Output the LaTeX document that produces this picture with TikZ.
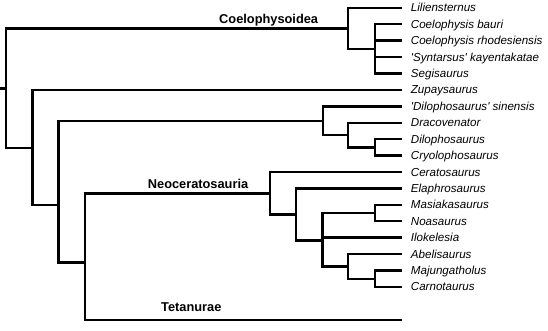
\documentclass[tikz,border=0pt]{standalone}
\usepackage{fontspec}
\setmainfont{Liberation Sans}
\begin{document}
\begin{tikzpicture}[x=1pt,y=-1pt,
  branch/.style={line width=2.4pt, line join=miter},
  taxon/.style={anchor=base west, inner sep=0pt, font=\fontsize{11.6}{13}\selectfont\itshape},
  clade/.style={anchor=base west, inner sep=0pt, font=\fontsize{12.8}{15}\selectfont\bfseries}]
\useasboundingbox (0,0) rectangle (548,331);
% leaves
\foreach \i/\name in {0/Liliensternus, 1/Coelophysis bauri, 2/Coelophysis rhodesiensis,
  3/\textquotesingle Syntarsus\textquotesingle{} kayentakatae, 4/Segisaurus, 5/Zupaysaurus,
  6/\textquotesingle Dilophosaurus\textquotesingle{} sinensis, 7/Dracovenator, 8/Dilophosaurus,
  9/Cryolophosaurus, 10/Ceratosaurus, 11/Elaphrosaurus, 12/Masiakasaurus, 13/Noasaurus,
  14/Ilokelesia, 15/Abelisaurus, 16/Majungatholus, 17/Carnotaurus}{
  \coordinate (t\i) at (401.7,7.8+16.42*\i);
  \node[taxon] (l\i) at (410.7,11.8+16.42*\i) {\name};
}
\coordinate (t19) at (401.7,319.8);
% internal nodes
\coordinate (cC) at (374.7,48.9);
\coordinate (cCoel) at (348,28.6);
\coordinate (cDC) at (374.7,147.4);
\coordinate (cDr) at (348,135);
\coordinate (cDil) at (323,121);
\coordinate (cNoa) at (374.7,213);
\coordinate (cMC) at (374.7,278.7);
\coordinate (cAbe) at (348,266.4);
\coordinate (cAbs) at (322.3,240.5);
\coordinate (cEla) at (295.7,214.5);
\coordinate (cNeo) at (270,193.5);
\coordinate (cNT) at (85,262.3);
\coordinate (cDNT) at (58.5,205);
\coordinate (cZ) at (32.3,147.9);
\coordinate (root) at (5.7,88.5);
\coordinate (base) at (0,88.5);
% branches
\draw[branch] (base) -- (root);
\draw[branch] (root) |- (cCoel);
\draw[branch] (root) |- (cZ);
\draw[branch] (cCoel) |- (t0);
\draw[branch] (cCoel) |- (cC);
\foreach \k in {1,2,3,4} \draw[branch] (cC) |- (t\k);
\draw[branch] (cZ) |- (t5);
\draw[branch] (cZ) |- (cDNT);
\draw[branch] (cDNT) |- (cDil);
\draw[branch] (cDNT) |- (cNT);
\draw[branch] (cDil) |- (t6);
\draw[branch] (cDil) |- (cDr);
\draw[branch] (cDr) |- (t7);
\draw[branch] (cDr) |- (cDC);
\draw[branch] (cDC) |- (t8);
\draw[branch] (cDC) |- (t9);
\draw[branch] (cNT) |- (cNeo);
\draw[branch] (cNT) |- (t19);
\draw[branch] (cNeo) |- (t10);
\draw[branch] (cNeo) |- (cEla);
\draw[branch] (cEla) |- (t11);
\draw[branch] (cEla) |- (cAbs);
\draw[branch] (cAbs) |- (cNoa);
\draw[branch] (cAbs) |- (t14);
\draw[branch] (cAbs) |- (cAbe);
\draw[branch] (cNoa) |- (t12);
\draw[branch] (cNoa) |- (t13);
\draw[branch] (cAbe) |- (t15);
\draw[branch] (cAbe) |- (cMC);
\draw[branch] (cMC) |- (t16);
\draw[branch] (cMC) |- (t17);
% clade labels
\node[clade] (coel) at (219,23.3) {Coelophysoidea};
\node[clade] (neo) at (147.7,188.3) {Neoceratosauria};
\node[clade] (tet) at (161,311.7) {Tetanurae};
\end{tikzpicture}
\end{document}
